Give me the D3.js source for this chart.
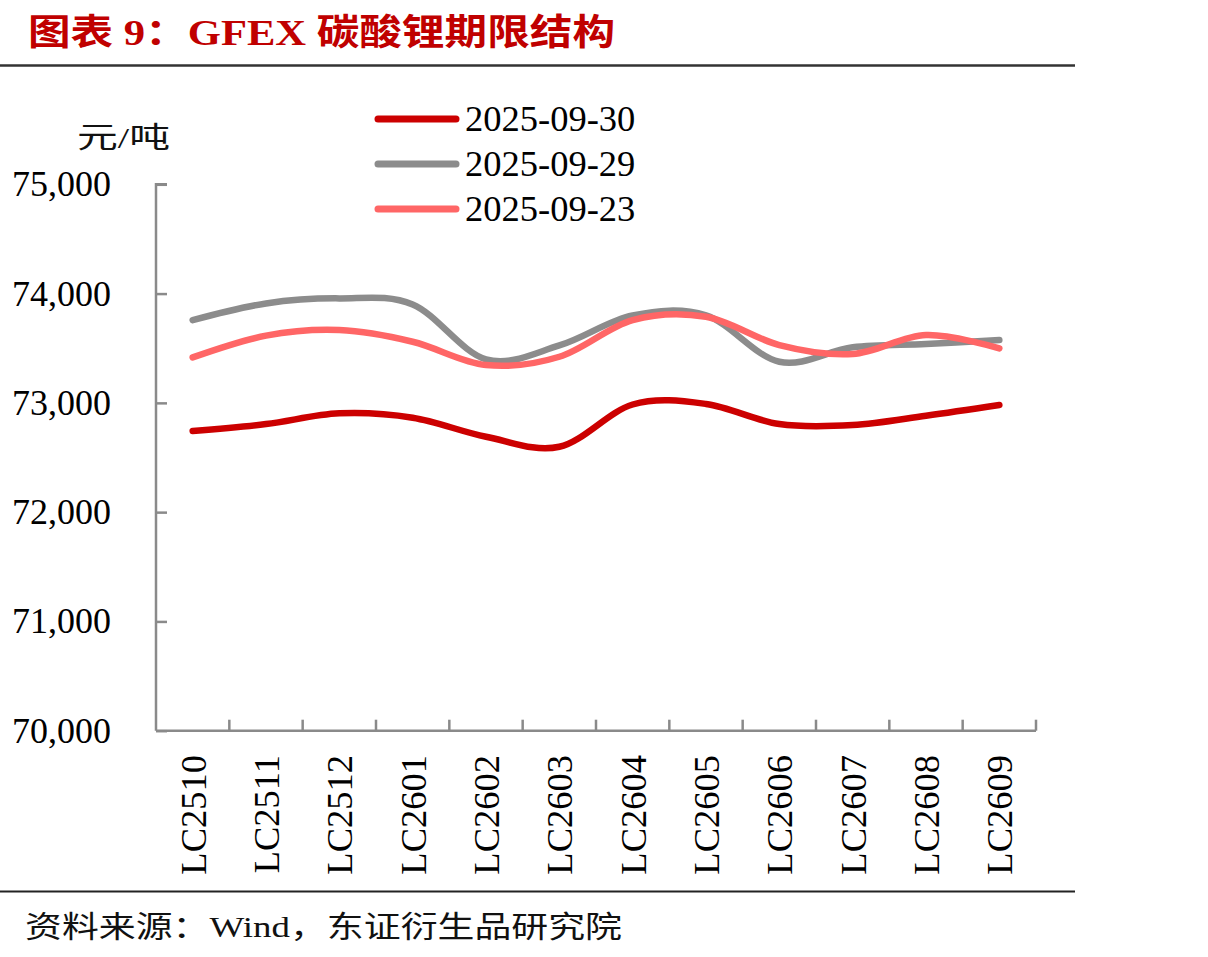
<!DOCTYPE html>
<html><head><meta charset="utf-8">
<script src="https://cdn.jsdelivr.net/npm/d3@7"></script>
<style>body{margin:0;background:#fff}svg{display:block}</style>
</head><body>
<svg id="c" width="1208" height="957"></svg>
<script>
const categories = ["LC2510","LC2511","LC2512","LC2601","LC2602","LC2603","LC2604","LC2605","LC2606","LC2607","LC2608","LC2609"];
const seriesNames = ["2025-09-30","2025-09-29","2025-09-23"];
const s0930 = [72742,72806,72904,72864,72690,72598,72985,72990,72806,72797,72882,72980];
const s0929 = [73757,73910,73956,73900,73398,73525,73800,73800,73376,73508,73538,73575];
const s0923 = [73416,73615,73666,73559,73346,73422,73758,73788,73529,73447,73620,73499];
const yTicks = [70000,71000,72000,73000,74000,75000];
const colors = ["#cc0000","#8c8c8c","#ff6666"];
const seriesValues = [s0930, s0929, s0923];

const svg = d3.select("#c");
const latin = "'Liberation Serif','Times New Roman',serif";
const cjk = "'Liberation Serif','Noto Sans CJK SC',serif";

// title
svg.append("text").attr("x",28).attr("y",45)
  .attr("font-family",cjk).attr("font-weight","bold").attr("font-size",36)
  .attr("fill","#c00000")
  .attr("textLength",587).attr("lengthAdjust","spacingAndGlyphs")
  .text("图表 9：GFEX 碳酸锂期限结构");
svg.append("line").attr("x1",0).attr("x2",1075).attr("y1",65.5).attr("y2",65.5)
  .attr("stroke","#333").attr("stroke-width",2.5);
svg.append("line").attr("x1",0).attr("x2",1075).attr("y1",891.5).attr("y2",891.5)
  .attr("stroke","#222").attr("stroke-width",2.2);

// source
svg.append("text").attr("x",25).attr("y",937)
  .attr("font-family",cjk).attr("font-size",30).attr("fill","#111")
  .attr("textLength",597).attr("lengthAdjust","spacingAndGlyphs")
  .text("资料来源：Wind，东证衍生品研究院");

// unit
svg.append("text").attr("x",77).attr("y",148)
  .attr("font-family",cjk).attr("font-size",29).attr("fill","#111")
  .attr("textLength",93).attr("lengthAdjust","spacingAndGlyphs")
  .text("元/吨");

const x0 = 156, x1 = 1036, yTop = 184.3, yBot = 730.7;
const x = d3.scalePoint().domain(categories).range([x0,x1]).padding(0.5);
const y = d3.scaleLinear().domain([70000,75000]).range([yBot,yTop]);
const band = (x1-x0)/categories.length;

// y axis
const yAxis = svg.append("g").attr("transform",`translate(${x0},0)`)
  .call(d3.axisRight(y).tickValues(yTicks).tickSize(11).tickFormat(""));
yAxis.select(".domain").attr("stroke","#8a8a8a").attr("stroke-width",2.5)
  .attr("d",`M11,${yTop}H0V${yBot}`);
yAxis.selectAll(".tick line").attr("stroke","#8a8a8a").attr("stroke-width",2.5);
svg.append("g").selectAll("text").data(yTicks).join("text")
  .attr("x",111).attr("y",d=>y(d)+12)
  .attr("text-anchor","end").attr("font-family",latin).attr("font-size",36).attr("fill","#000")
  .text(d=>d3.format(",")(d));

// x axis
const xTickPos = d3.range(1,categories.length+1).map(i=>x0+band*i);
svg.append("line").attr("x1",x0).attr("x2",x1).attr("y1",yBot).attr("y2",yBot)
  .attr("stroke","#8a8a8a").attr("stroke-width",2.5);
svg.append("g").selectAll("line").data(xTickPos).join("line")
  .attr("x1",d=>d).attr("x2",d=>d).attr("y1",yBot).attr("y2",yBot-11)
  .attr("stroke","#8a8a8a").attr("stroke-width",2.5);
svg.append("g").selectAll("text").data(categories).join("text")
  .attr("transform",d=>`translate(${x(d)+13},755) rotate(-90)`)
  .attr("text-anchor","end").attr("font-family",latin).attr("font-size",36.5).attr("fill","#000")
  .text(d=>d);

// lines
const line = d3.line().x((d,i)=>x(categories[i])).y(d=>y(d)).curve(d3.curveCatmullRom.alpha(0));
svg.append("g").selectAll("path").data(seriesValues).join("path")
  .attr("d",d=>line(d)).attr("fill","none")
  .attr("stroke",(d,i)=>colors[i]).attr("stroke-width",6.5)
  .attr("stroke-linecap","round").attr("stroke-linejoin","round");

// legend
const lg = svg.append("g").selectAll("g").data(seriesNames).join("g")
  .attr("transform",(d,i)=>`translate(0,${119+45*i})`);
lg.append("line").attr("x1",378).attr("x2",456).attr("y1",0).attr("y2",0)
  .attr("stroke",(d,i)=>colors[i]).attr("stroke-width",7).attr("stroke-linecap","round");
lg.append("text").attr("x",465).attr("y",11.5)
  .attr("font-family",latin).attr("font-size",36.5).attr("fill","#000").text(d=>d);
</script>
</body></html>
